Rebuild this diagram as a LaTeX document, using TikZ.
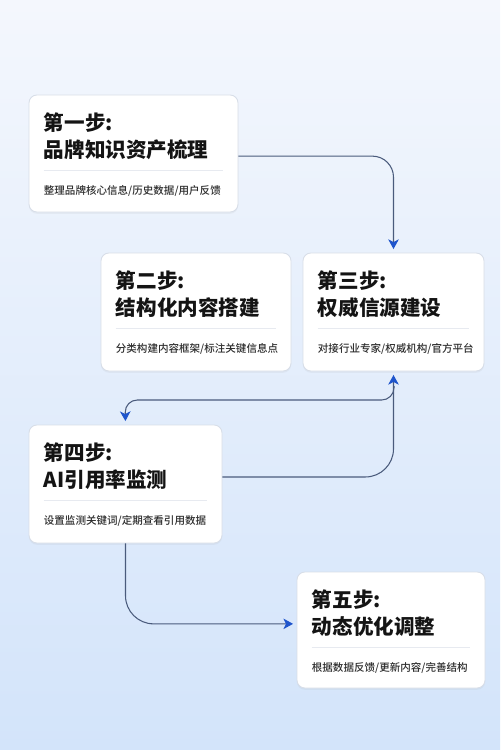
\documentclass[tikz,border=0pt]{standalone}
\usepackage{fontspec}
\newfontfamily\cjk{Noto Sans CJK SC}[BoldFont={Noto Sans CJK SC Black}]
\newfontfamily\cjkmid{Noto Sans CJK SC Medium}
\usetikzlibrary{positioning,fit,arrows.meta,shadows}

\definecolor{bgtop}{HTML}{F4F7FD}
\definecolor{bgbottom}{HTML}{D3E4FA}
\definecolor{boxline}{HTML}{D8DEE8}
\definecolor{rulegray}{HTML}{E7EAF0}
\definecolor{flowline}{HTML}{4A5B7C}
\definecolor{tipblue}{HTML}{1F55CC}
\definecolor{textdark}{HTML}{141414}

\tikzset{
  stepbox/.style={draw=boxline, line width=0.5pt, fill=white, rounded corners=4.5pt, inner sep=0pt,
    drop shadow={opacity=0.08, shadow xshift=0pt, shadow yshift=-1pt}},
  steptitle/.style={anchor=base west, align=left, inner sep=0pt, text=textdark,
    font=\cjk\bfseries\fontsize{11.7}{15.4}\selectfont},
  stepsub/.style={anchor=base west, inner sep=0pt, text=textdark!90, font=\cjkmid\fontsize{6}{7}\selectfont},
  steprule/.style={draw=rulegray, line width=0.5pt},
  flow/.style={draw=flowline, line width=0.6pt,
    -{Stealth[length=5.5pt, width=6pt, inset=1.5pt, color=tipblue]}, shorten >=2pt},
}

\begin{document}
\begin{tikzpicture}[x=0.02cm, y=-0.02cm]
    % Background
    \useasboundingbox (0,0) rectangle (500,750);
    \shade[top color=bgtop, bottom color=bgbottom] (0,0) rectangle (500,750);

    % Step boxes
    \node[stepbox, fit={(29,95) (238,212)}] (s1) {};
    \node[stepbox, fit={(101,253) (291,371)}] (s2) {};
    \node[stepbox, fit={(303,253) (484,371)}] (s3) {};
    \node[stepbox, fit={(29,425) (222,543)}] (s4) {};
    \node[stepbox, fit={(297,572) (485,688)}] (s5) {};

    % Separator in each box
    \foreach \s in {s1,s2,s3,s4,s5}
        \draw[steprule] ([shift={(15,76)}]\s.north west) -- ([shift={(-15,76)}]\s.north east);

    % Titles (base = second line)
    \node[steptitle] (t1) at ([shift={(15,63)}]s1.north west) {第一步:\\品牌知识资产梳理};
    \node[steptitle] (t2) at ([shift={(15,63)}]s2.north west) {第二步:\\结构化内容搭建};
    \node[steptitle] (t3) at ([shift={(15,63)}]s3.north west) {第三步:\\权威信源建设};
    \node[steptitle] (t4) at ([shift={(15,63)}]s4.north west) {第四步:\\AI引用率监测};
    \node[steptitle] (t5) at ([shift={(15,63)}]s5.north west) {第五步:\\动态优化调整};

    % Descriptions
    \node[stepsub] (d1) at ([shift={(15,100)}]s1.north west) {整理品牌核心信息/历史数据/用户反馈};
    \node[stepsub] (d2) at ([shift={(15,100)}]s2.north west) {分类构建内容框架/标注关键信息点};
    \node[stepsub] (d3) at ([shift={(15,100)}]s3.north west) {对接行业专家/权威机构/官方平台};
    \node[stepsub] (d4) at ([shift={(15,100)}]s4.north west) {设置监测关键词/定期查看引用数据};
    \node[stepsub] (d5) at ([shift={(15,100)}]s5.north west) {根据数据反馈/更新内容/完善结构};

    % Connectors
    \draw[flow, rounded corners=12pt] ([yshift=-1.5pt]s1.east) -| (s3.north);
    \draw[flow, rounded corners=16pt] ([yshift=4pt]s4.east) -| (s3.south);
    \coordinate (fork) at (394,386);
    \coordinate (bend) at (125,400);
    \draw[flow, rounded corners=7pt] (fork) |- (bend) -- (s4.north);
    \draw[flow, rounded corners=16pt] (s4.south) |- ([yshift=3.5pt]s5.west);
\end{tikzpicture}
\end{document}
